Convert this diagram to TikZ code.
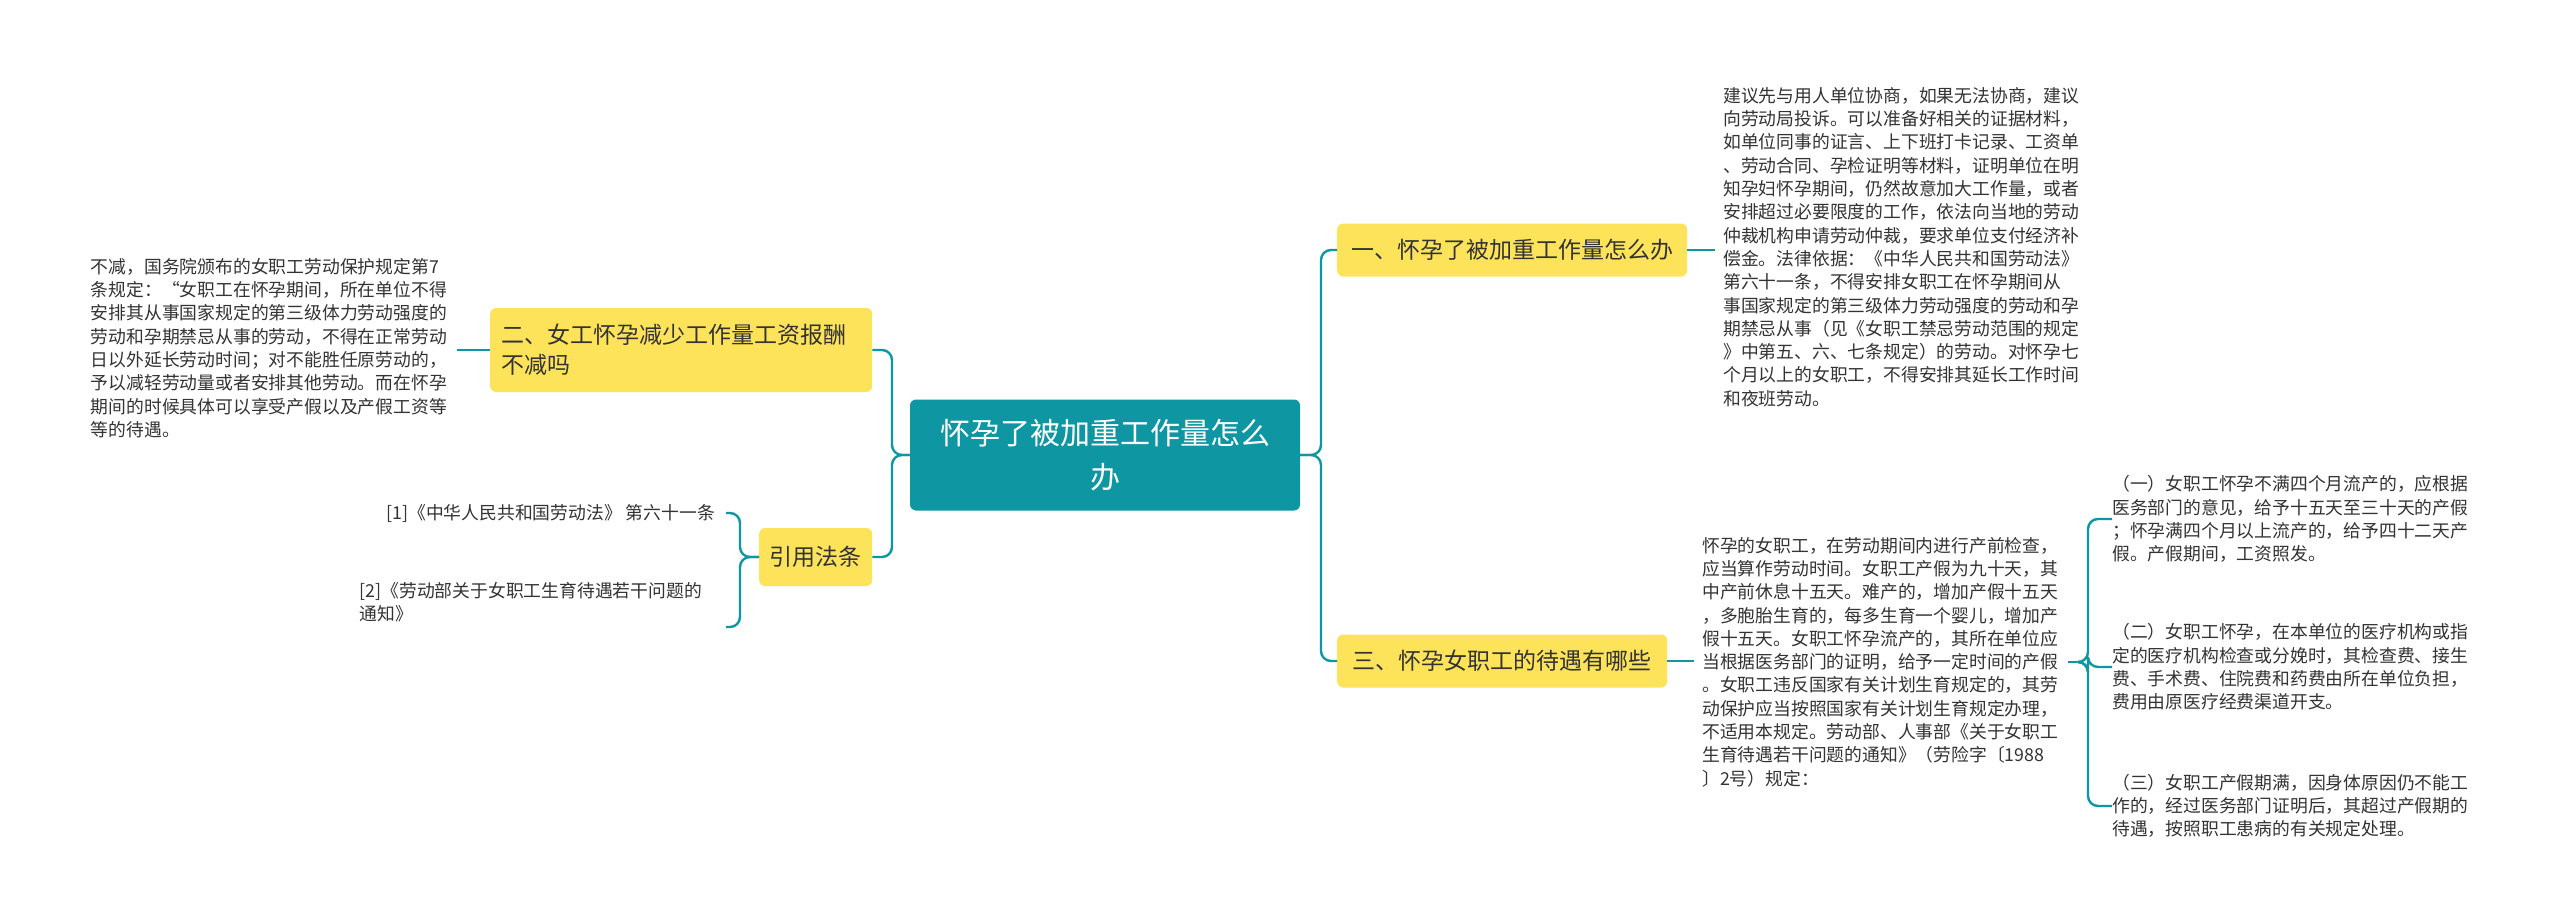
\documentclass[tikz,border=0pt]{standalone}
\usepackage{fontspec}
\setmainfont{Noto Sans CJK SC}
\definecolor{teal1}{HTML}{0E97A3}
\definecolor{yel}{HTML}{FDE35A}
\definecolor{txt}{HTML}{333333}
\begin{document}
\begin{tikzpicture}[x=1pt,y=-1pt,
  conn/.style={draw=teal1,line width=2.4pt,rounded corners=10pt},
  branchbox/.style={fill=yel,rounded corners=6pt,text=txt,font=\fontsize{23}{30}\selectfont,align=left,inner sep=0pt},
  leaf/.style={text=txt,font=\fontsize{17.8}{23.3}\selectfont,align=left,inner sep=0pt}]
\useasboundingbox (0,0) rectangle (2560,923);
\fill[white] (0,0) rectangle (2560,923);
% central
\node[fill=teal1,rounded corners=6pt,text=white,minimum width=390pt,minimum height=111pt,align=center,font=\fontsize{30}{44}\selectfont,inner sep=0pt] (c) at (1105,455) {怀孕了被加重工作量怎么\\办};
% branches
\node[branchbox,minimum width=350pt,minimum height=53pt,anchor=west,align=center] (b1) at (1337,250) {一、怀孕了被加重工作量怎么办};
\node[branchbox,minimum width=330pt,minimum height=53pt,anchor=west,align=center] (b3) at (1337,661) {三、怀孕女职工的待遇有哪些};
\node[branchbox,minimum width=382pt,minimum height=84pt,anchor=west,text width=360pt] (b2) at (490,350) {\hspace*{0pt}二、女工怀孕减少工作量工资报酬\\不减吗};
\node[branchbox,minimum width=113pt,minimum height=58pt,anchor=west,align=center] (b4) at (759,557) {引用法条};
% leaves
\node[leaf,anchor=west] (t1) at (1723,247) {建议先与用人单位协商，如果无法协商，建议\\向劳动局投诉。可以准备好相关的证据材料，\\如单位同事的证言、上下班打卡记录、工资单\\、劳动合同、孕检证明等材料，证明单位在明\\知孕妇怀孕期间，仍然故意加大工作量，或者\\安排超过必要限度的工作，依法向当地的劳动\\仲裁机构申请劳动仲裁，要求单位支付经济补\\偿金。法律依据：《中华人民共和国劳动法》\\ 第六十一条，不得安排女职工在怀孕期间从\\事国家规定的第三级体力劳动强度的劳动和孕\\期禁忌从事（见《女职工禁忌劳动范围的规定\\》中第五、六、七条规定）的劳动。对怀孕七\\个月以上的女职工，不得安排其延长工作时间\\和夜班劳动。};
\node[leaf,anchor=west] (t3) at (1702,662) {怀孕的女职工，在劳动期间内进行产前检查，\\应当算作劳动时间。女职工产假为九十天，其\\中产前休息十五天。难产的，增加产假十五天\\，多胞胎生育的，每多生育一个婴儿，增加产\\假十五天。女职工怀孕流产的，其所在单位应\\当根据医务部门的证明，给予一定时间的产假\\。女职工违反国家有关计划生育规定的，其劳\\动保护应当按照国家有关计划生育规定办理，\\不适用本规定。劳动部、人事部《关于女职工\\生育待遇若干问题的通知》（劳险字〔1988\\〕2号）规定：};
\node[leaf,anchor=west] (s1) at (2112,519) {（一）女职工怀孕不满四个月流产的，应根据\\医务部门的意见，给予十五天至三十天的产假\\；怀孕满四个月以上流产的，给予四十二天产\\假。产假期间，工资照发。};
\node[leaf,anchor=west] (s2) at (2112,667) {（二）女职工怀孕，在本单位的医疗机构或指\\定的医疗机构检查或分娩时，其检查费、接生\\费、手术费、住院费和药费由所在单位负担，\\费用由原医疗经费渠道开支。};
\node[leaf,anchor=west] (s3) at (2112,806) {（三）女职工产假期满，因身体原因仍不能工\\作的，经过医务部门证明后，其超过产假期的\\待遇，按照职工患病的有关规定处理。};
\node[leaf,anchor=east] (l2) at (447,348) {不减，国务院颁布的女职工劳动保护规定第7\\条规定：“女职工在怀孕期间，所在单位不得\\安排其从事国家规定的第三级体力劳动强度的\\劳动和孕期禁忌从事的劳动，不得在正常劳动\\日以外延长劳动时间；对不能胜任原劳动的，\\予以减轻劳动量或者安排其他劳动。而在怀孕\\期间的时候具体可以享受产假以及产假工资等\\等的待遇。};
\node[leaf,anchor=east] (r1) at (715,513) {[1]《中华人民共和国劳动法》 第六十一条};
\node[leaf,anchor=north east] (r2) at (702,582) {[2]《劳动部关于女职工生育待遇若干问题的\\通知》};
% connectors
\draw[conn] (c.east) -- (1321,455) |- (b1.west);
\draw[conn] (c.east) -- (1321,455) |- (b3.west);
\draw[conn] (c.west) -- (892,455) |- (b2.east);
\draw[conn] (c.west) -- (892,455) |- (b4.east);
\draw[conn] (b1.east) -- (1715,250);
\draw[conn] (b3.east) -- (1694,661);
\coordinate (k3) at (2078,662);
\draw[conn] (2068,662) -- (k3);
\draw[conn] (k3) -- (2088,662) |- (s1.west);
\draw[conn] (k3) -- (2088,662) |- (s2.west);
\draw[conn] (k3) -- (2088,662) |- (s3.west);
\draw[conn] (457,350) -- (b2.west);
\coordinate (k4) at (740,557);
\draw[conn] (b4.west) -- (k4) |- (726,513);
\draw[conn] (b4.west) -- (k4) |- (726,627);
\end{tikzpicture}
\end{document}
